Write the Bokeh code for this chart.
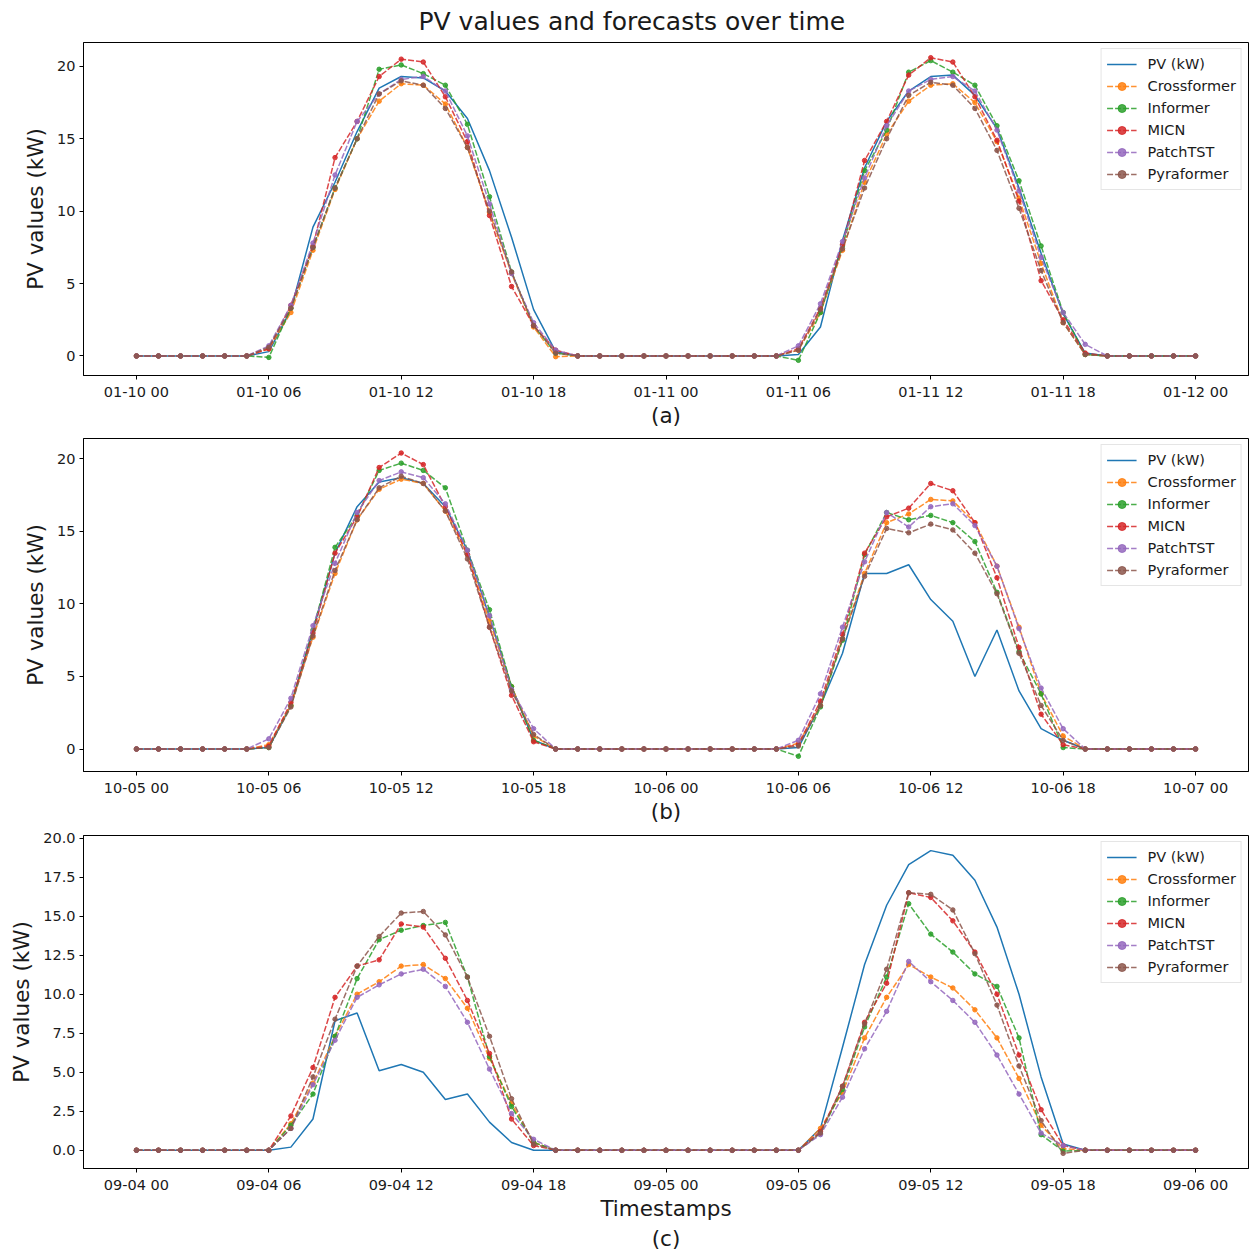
from bokeh.plotting import figure
from bokeh.layouts import column
from bokeh.models import FixedTicker, Legend, LegendItem, Title, Range1d, NumeralTickFormatter
from bokeh.embed import file_html
from bokeh.resources import INLINE

# ---------------- data ----------------
hours = list(range(49))  # hourly steps over two days
tick_hours = [0, 6, 12, 18, 24, 30, 36, 42, 48]

ticks_a = ["01-10 00", "01-10 06", "01-10 12", "01-10 18", "01-11 00", "01-11 06", "01-11 12", "01-11 18", "01-12 00"]
ticks_b = ["10-05 00", "10-05 06", "10-05 12", "10-05 18", "10-06 00", "10-06 06", "10-06 12", "10-06 18", "10-07 00"]
ticks_c = ["09-04 00", "09-04 06", "09-04 12", "09-04 18", "09-05 00", "09-05 06", "09-05 12", "09-05 18", "09-06 00"]

series_names = ["PV (kW)", "Crossformer", "Informer", "MICN", "PatchTST", "Pyraformer"]

# panel (a)
pv_a = [0, 0, 0, 0, 0, 0, 0.3, 3.2, 8.9, 12.0, 15.5, 18.5, 19.3, 19.2, 18.3, 16.4, 12.8, 8.2, 3.2, 0.3,
        0, 0, 0, 0, 0, 0, 0, 0, 0, 0, 0.1, 2.0, 8.0, 13.0, 16.2, 18.3, 19.3, 19.4, 18.0, 15.7, 11.6, 7.1, 2.9, 0.2,
        0, 0, 0, 0, 0]
crossformer_a = [0, 0, 0, 0, 0, 0, 0.5, 3.0, 7.3, 11.5, 15.0, 17.6, 18.8, 18.7, 17.4, 14.4, 9.9, 5.7, 2.0, -0.05,
                 0, 0, 0, 0, 0, 0, 0, 0, 0, 0, 0.4, 3.0, 7.3, 12.0, 15.3, 17.6, 18.7, 18.8, 17.5, 14.8, 10.9, 6.4, 2.3, 0.1,
                 0, 0, 0, 0, 0]
informer_a = [0, 0, 0, 0, 0, 0, -0.1, 3.3, 7.5, 11.6, 15.0, 19.8, 20.1, 19.5, 18.7, 16.0, 11.0, 5.8, 2.1, 0.2,
              0, 0, 0, 0, 0, 0, 0, 0, 0, 0, -0.3, 3.0, 7.6, 12.8, 15.6, 19.6, 20.4, 19.6, 18.7, 15.9, 12.1, 7.6, 3.0, 0.1,
              0, 0, 0, 0, 0]
micn_a = [0, 0, 0, 0, 0, 0, 0.5, 3.5, 7.6, 13.7, 16.2, 19.3, 20.5, 20.3, 17.9, 14.8, 9.7, 4.8, 2.1, 0.4,
          0, 0, 0, 0, 0, 0, 0, 0, 0, 0, 0.5, 3.3, 7.7, 13.5, 16.2, 19.4, 20.6, 20.3, 17.9, 14.9, 10.7, 5.2, 2.5, 0.2,
          0, 0, 0, 0, 0]
patchtst_a = [0, 0, 0, 0, 0, 0, 0.7, 3.5, 7.8, 12.5, 16.2, 18.1, 19.1, 19.3, 18.3, 15.2, 10.5, 5.7, 2.3, 0.4,
              0, 0, 0, 0, 0, 0, 0, 0, 0, 0, 0.7, 3.6, 7.9, 12.3, 15.9, 18.3, 19.1, 19.3, 18.3, 15.6, 11.4, 6.8, 3.0, 0.8,
              0, 0, 0, 0, 0]
pyraformer_a = [0, 0, 0, 0, 0, 0, 0.6, 3.3, 7.5, 11.6, 15.0, 18.1, 19.0, 18.7, 17.1, 14.4, 10.0, 5.8, 2.1, 0.2,
                0, 0, 0, 0, 0, 0, 0, 0, 0, 0, 0.4, 3.2, 7.4, 11.6, 15.0, 18.0, 18.9, 18.7, 17.1, 14.2, 10.2, 5.9, 2.3, 0.1,
                0, 0, 0, 0, 0]

# panel (b)
pv_b = [0, 0, 0, 0, 0, 0, 0.1, 3.0, 8.2, 13.5, 16.7, 18.4, 18.7, 18.3, 16.7, 13.7, 9.1, 4.3, 0.6, 0,
        0, 0, 0, 0, 0, 0, 0, 0, 0, 0, 0.1, 3.0, 6.6, 12.1, 12.1, 12.7, 10.3, 8.8, 5.0, 8.2, 4.0, 1.4, 0.6, 0,
        0, 0, 0, 0, 0]
crossformer_b = [0, 0, 0, 0, 0, 0, 0.3, 3.0, 7.7, 12.1, 15.8, 17.9, 18.6, 18.3, 16.4, 13.4, 8.8, 4.3, 0.9, 0,
                 0, 0, 0, 0, 0, 0, 0, 0, 0, 0, 0.4, 3.0, 7.6, 12.1, 15.6, 16.2, 17.2, 17.1, 15.6, 12.6, 8.4, 3.8, 0.9, 0,
                 0, 0, 0, 0, 0]
informer_b = [0, 0, 0, 0, 0, 0, 0.1, 3.0, 8.2, 13.9, 16.1, 19.2, 19.7, 19.2, 18.0, 13.7, 9.6, 4.3, 0.6, 0,
              0, 0, 0, 0, 0, 0, 0, 0, 0, 0, -0.5, 2.9, 7.5, 13.4, 16.3, 15.8, 16.1, 15.6, 14.3, 10.8, 6.7, 3.8, 0.1, 0,
              0, 0, 0, 0, 0]
micn_b = [0, 0, 0, 0, 0, 0, 0.2, 3.2, 8.0, 13.5, 16.0, 19.4, 20.4, 19.6, 16.7, 13.4, 8.4, 3.7, 0.5, 0,
          0, 0, 0, 0, 0, 0, 0, 0, 0, 0, 0.3, 3.3, 7.9, 13.5, 16.0, 16.6, 18.3, 17.8, 15.6, 11.8, 7.0, 2.4, 0.3, 0,
          0, 0, 0, 0, 0]
patchtst_b = [0, 0, 0, 0, 0, 0, 0.7, 3.5, 8.5, 12.8, 16.3, 18.5, 19.1, 18.7, 16.9, 13.7, 9.2, 4.1, 1.4, 0,
              0, 0, 0, 0, 0, 0, 0, 0, 0, 0, 0.6, 3.8, 8.4, 12.9, 16.3, 15.3, 16.7, 16.9, 15.4, 12.6, 8.3, 4.2, 1.4, 0,
              0, 0, 0, 0, 0]
pyraformer_b = [0, 0, 0, 0, 0, 0, 0.1, 2.9, 7.8, 12.3, 15.8, 18.0, 18.8, 18.3, 16.4, 13.1, 8.4, 4.0, 1.0, 0,
                0, 0, 0, 0, 0, 0, 0, 0, 0, 0, 0.2, 3.0, 7.6, 11.9, 15.2, 14.9, 15.5, 15.1, 13.5, 10.7, 6.6, 3.0, 0.6, 0,
                0, 0, 0, 0, 0]

# panel (c)
pv_c = [0, 0, 0, 0, 0, 0, 0, 0.2, 2.0, 8.3, 8.8, 5.1, 5.5, 5.0, 3.25, 3.6, 1.8, 0.5, 0, 0,
        0, 0, 0, 0, 0, 0, 0, 0, 0, 0, 0, 1.4, 6.6, 11.9, 15.7, 18.3, 19.2, 18.9, 17.3, 14.3, 10.0, 4.7, 0.4, 0,
        0, 0, 0, 0, 0]
crossformer_c = [0, 0, 0, 0, 0, 0, 0, 1.7, 4.3, 7.3, 10.0, 10.8, 11.8, 11.9, 11.0, 9.1, 5.9, 3.0, 0.5, 0,
                 0, 0, 0, 0, 0, 0, 0, 0, 0, 0, 0, 1.4, 3.7, 7.2, 9.8, 11.9, 11.1, 10.4, 9.0, 7.2, 4.6, 1.6, 0.1, 0,
                 0, 0, 0, 0, 0]
informer_c = [0, 0, 0, 0, 0, 0, 0, 1.6, 3.6, 7.3, 11.0, 13.5, 14.1, 14.4, 14.6, 11.1, 6.0, 2.8, 0.5, 0,
              0, 0, 0, 0, 0, 0, 0, 0, 0, 0, 0, 1.1, 3.9, 7.9, 11.1, 15.8, 13.85, 12.7, 11.3, 10.5, 7.2, 1.0, -0.05, 0,
              0, 0, 0, 0, 0]
micn_c = [0, 0, 0, 0, 0, 0, 0, 2.2, 5.3, 9.8, 11.8, 12.2, 14.5, 14.3, 12.3, 9.6, 6.2, 2.0, 0.3, 0,
          0, 0, 0, 0, 0, 0, 0, 0, 0, 0, 0, 1.2, 4.1, 8.2, 10.7, 16.5, 16.2, 14.7, 12.7, 10.0, 6.1, 2.6, 0.3, 0,
          0, 0, 0, 0, 0]
patchtst_c = [0, 0, 0, 0, 0, 0, 0, 1.4, 4.2, 7.05, 9.8, 10.6, 11.3, 11.6, 10.5, 8.2, 5.2, 2.35, 0.7, 0,
              0, 0, 0, 0, 0, 0, 0, 0, 0, 0, 0, 1.0, 3.4, 6.5, 8.9, 12.1, 10.8, 9.6, 8.2, 6.1, 3.6, 1.1, 0.3, 0,
              0, 0, 0, 0, 0]
pyraformer_c = [0, 0, 0, 0, 0, 0, 0, 1.4, 4.7, 8.4, 11.8, 13.7, 15.2, 15.3, 13.8, 11.1, 7.3, 3.3, 0.4, 0,
                0, 0, 0, 0, 0, 0, 0, 0, 0, 0, 0, 1.1, 4.1, 8.1, 11.6, 16.5, 16.4, 15.4, 12.6, 9.3, 5.4, 1.9, -0.2, 0,
                0, 0, 0, 0, 0]

y_ticks_ab = [0, 5, 10, 15, 20]
y_ticks_c = [0, 2.5, 5, 7.5, 10, 12.5, 15, 17.5, 20]

# ---------------- styling ----------------
COLORS = ["#1f77b4", "#ff7f0e", "#2ca02c", "#d62728", "#9467bd", "#8c564b"]
FONT = "DejaVu Sans"
TXT = "#1a1a1a"
TICK_FS = "14.5px"
LABEL_FS = "21.5px"


def make_panel(series, tick_labels, y_lo, y_hi, y_ticks, y_fmt, height, b_top, b_bottom, xlabel):
    p = figure(width=1249, height=height, x_range=Range1d(-2.4, 50.4), y_range=Range1d(y_lo, y_hi),
               output_backend="svg", toolbar_location=None,
               min_border_left=83, min_border_right=1, min_border_top=b_top, min_border_bottom=b_bottom)
    p.xgrid.visible = False
    p.ygrid.visible = False
    p.outline_line_color = "black"
    p.outline_line_width = 1
    p.outline_line_alpha = 1

    p.xaxis.ticker = FixedTicker(ticks=tick_hours)
    p.xaxis.major_label_overrides = {h: lab for h, lab in zip(tick_hours, tick_labels)}
    p.yaxis.ticker = FixedTicker(ticks=y_ticks)
    p.yaxis.formatter = NumeralTickFormatter(format=y_fmt)
    for ax in (p.xaxis[0], p.yaxis[0]):
        ax.axis_line_color = "black"
        ax.major_tick_line_color = "black"
        ax.major_tick_in = 0
        ax.major_tick_out = 4
        ax.minor_tick_line_color = None
        ax.major_label_text_font = FONT
        ax.major_label_text_font_size = TICK_FS
        ax.major_label_text_color = TXT
        ax.major_label_standoff = 4
        ax.axis_label_text_font = FONT
        ax.axis_label_text_font_size = LABEL_FS
        ax.axis_label_text_font_style = "normal"
        ax.axis_label_text_color = TXT
    p.yaxis.axis_label = "PV values (kW)"
    p.yaxis.axis_label_standoff = 6
    p.xaxis.axis_label = xlabel
    p.xaxis.axis_label_standoff = 0

    items = []
    for i, (name, vals) in enumerate(zip(series_names, series)):
        if i == 0:
            r = p.line(hours, vals, line_color=COLORS[i], line_width=1.5)
            items.append(LegendItem(label=name, renderers=[r]))
        else:
            r1 = p.line(hours, vals, line_color=COLORS[i], line_width=1.5, line_dash="6 2", line_alpha=0.85)
            r2 = p.scatter(hours, vals, size=4.5, fill_color=COLORS[i], line_color=COLORS[i],
                           fill_alpha=0.85, line_alpha=0.85)
            items.append(LegendItem(label=name, renderers=[r1, r2]))

    leg = Legend(items=items, location="top_right")
    leg.label_text_font = FONT
    leg.label_text_font_size = TICK_FS
    leg.label_text_color = TXT
    leg.glyph_width = 30
    leg.glyph_height = 20
    leg.label_height = 20
    leg.spacing = 2
    leg.padding = 5
    leg.margin = 6
    leg.label_standoff = 11
    leg.border_line_color = "#cccccc"
    leg.border_line_width = 1
    leg.background_fill_alpha = 0.8
    p.add_layout(leg)
    return p


pa = make_panel([pv_a, crossformer_a, informer_a, micn_a, patchtst_a, pyraformer_a], ticks_a,
                -1.35, 21.65, y_ticks_ab, "0", 430, 42, 55, "(a)")
pa.add_layout(Title(text="PV values and forecasts over time", align="left", offset=335,
                    vertical_align="top",
                    text_font=FONT, text_font_size="25px", text_font_style="normal",
                    text_color=TXT), "above")

pb = make_panel([pv_b, crossformer_b, informer_b, micn_b, patchtst_b, pyraformer_b], ticks_b,
                -1.55, 21.4, y_ticks_ab, "0", 396, 8, 55, "(b)")

pc = make_panel([pv_c, crossformer_c, informer_c, micn_c, patchtst_c, pyraformer_c], ticks_c,
                -1.17, 20.17, y_ticks_c, "0.0", 426, 9, 84, "Timestamps")
pc.add_layout(Title(text="(c)", align="center", standoff=1, text_font=FONT, text_font_size=LABEL_FS,
                    text_font_style="normal", text_color=TXT), "below")

layout = column(pa, pb, pc, spacing=0)
open("out.html", "w").write(file_html(layout, INLINE))
